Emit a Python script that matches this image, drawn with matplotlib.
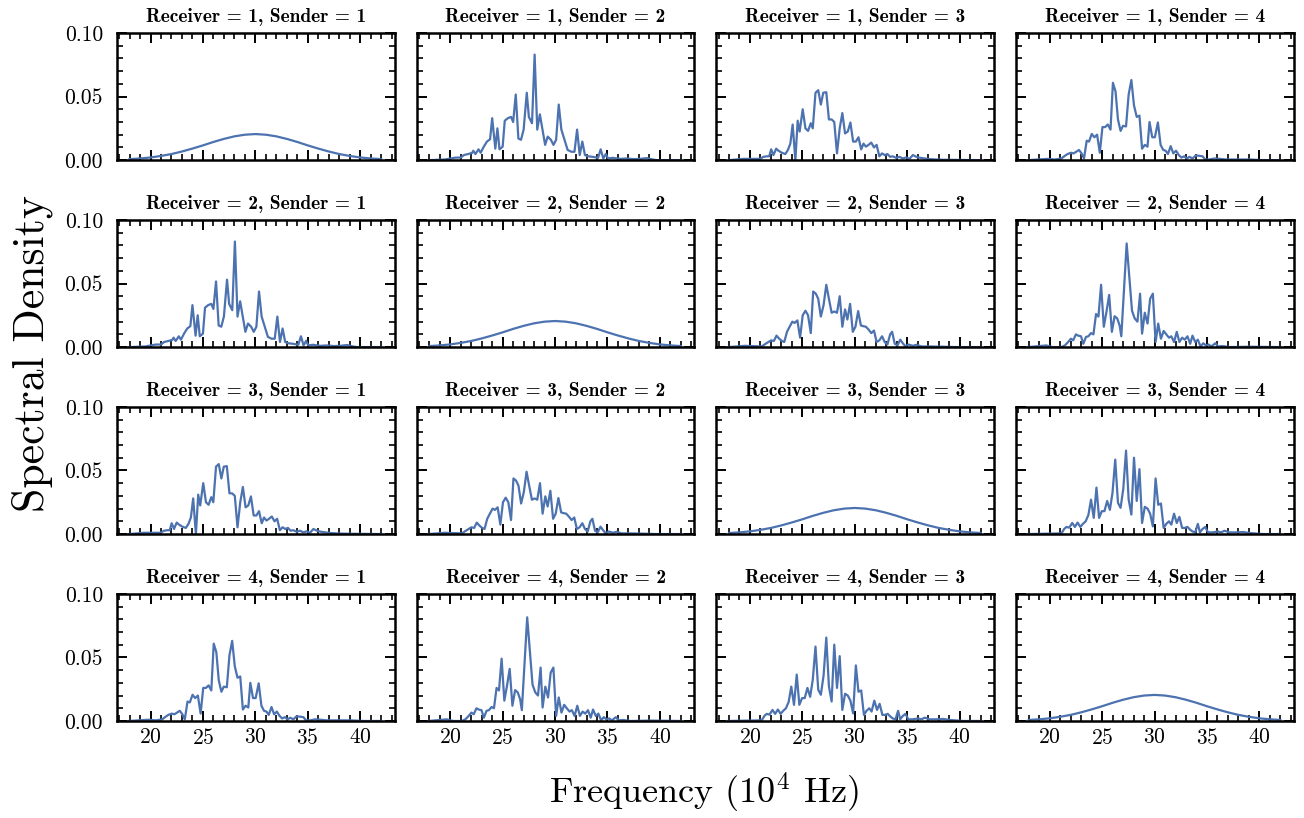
import matplotlib
matplotlib.use("Agg")
import matplotlib.pyplot as plt
from matplotlib.ticker import MultipleLocator, FormatStrFormatter

plt.rcParams['font.family'] = 'cmr10'
plt.rcParams['mathtext.fontset'] = 'cm'
plt.rcParams['axes.formatter.use_mathtext'] = True

# spectra, (frequency in 1e4 Hz, density)
auto_spec = [(18, 0.0008), (19, 0.0013), (20, 0.0021), (21, 0.0033), (22, 0.0048),
             (23, 0.0068), (24, 0.0091), (25, 0.0116), (26, 0.0143), (27, 0.0167),
             (28, 0.0187), (29, 0.0200), (30, 0.0205), (31, 0.0200), (32, 0.0187),
             (33, 0.0167), (34, 0.0143), (35, 0.0116), (36, 0.0091), (37, 0.0068),
             (38, 0.0048), (39, 0.0033), (40, 0.0021), (41, 0.0013), (42, 0.0008)]

cross_12 = [(18.0, 0.0), (19.5, 0.0005), (20.5, 0.002), (21.0, 0.002), (21.3, 0.004),
            (21.8, 0.005), (22.1, 0.0058), (22.2, 0.0074), (22.4, 0.0048), (22.7, 0.0085),
            (22.9, 0.0058), (23.2, 0.0106), (23.5, 0.0146), (23.8, 0.0164), (24.0, 0.033),
            (24.3, 0.009), (24.5, 0.025), (24.7, 0.0085), (25.0, 0.0106), (25.2, 0.031),
            (25.5, 0.033), (25.8, 0.034), (26.0, 0.030), (26.25, 0.0516), (26.5, 0.017),
            (26.75, 0.016), (27.0, 0.024), (27.3, 0.053), (27.5, 0.034), (27.8, 0.029),
            (28.05, 0.083), (28.3, 0.024), (28.55, 0.036), (28.8, 0.024), (29.05, 0.012),
            (29.3, 0.0185), (29.6, 0.016), (29.85, 0.012), (30.1, 0.016), (30.35, 0.0437),
            (30.6, 0.024), (30.9, 0.016), (31.2, 0.008), (31.55, 0.0066), (31.85, 0.0066),
            (32.1, 0.024), (32.35, 0.004), (32.6, 0.0146), (32.85, 0.004), (33.15, 0.003),
            (33.6, 0.0026), (34.1, 0.0018), (34.35, 0.0085), (34.6, 0.0013), (34.85, 0.005),
            (35.05, 0.0013), (35.5, 0.0018), (36.2, 0.001), (36.8, 0.0013), (37.5, 0.0008),
            (38.1, 0.001), (38.75, 0.0016), (39.3, 0.0005), (39.7, 0.0), (42.0, 0.0)]

cross_13 = [(18.0, 0.0), (19.36, 0.001), (19.84, 0.001), (20.96, 0.001), (21.28, 0.0026),
            (21.6, 0.003), (21.83, 0.003), (22.02, 0.0085), (22.24, 0.004), (22.5, 0.009),
            (22.72, 0.0074), (23.04, 0.0058), (23.37, 0.0048), (23.62, 0.008), (23.85, 0.013),
            (24.07, 0.028), (24.33, 0.0), (24.55, 0.031), (24.74, 0.0225), (25.03, 0.040),
            (25.29, 0.025), (25.54, 0.023), (25.8, 0.029), (25.99, 0.025), (26.25, 0.053),
            (26.51, 0.055), (26.76, 0.0437), (26.99, 0.053), (27.28, 0.0534), (27.53, 0.032),
            (27.79, 0.032), (28.04, 0.030), (28.3, 0.0053), (28.56, 0.025), (28.81, 0.037),
            (29.07, 0.021), (29.33, 0.0225), (29.58, 0.0296), (29.84, 0.0146), (30.1, 0.0146),
            (30.35, 0.018), (30.61, 0.0085), (30.83, 0.013), (31.06, 0.0106), (31.31, 0.012),
            (31.57, 0.0138), (31.83, 0.010), (32.08, 0.012), (32.34, 0.003), (32.6, 0.0053),
            (32.85, 0.004), (33.11, 0.0048), (33.37, 0.0026), (33.62, 0.003), (33.94, 0.0018),
            (34.26, 0.0026), (34.58, 0.0013), (34.9, 0.0021), (35.22, 0.001), (35.54, 0.004),
            (35.87, 0.0026), (36.25, 0.0018), (36.67, 0.0013), (37.15, 0.0008), (37.79, 0.0005),
            (38.43, 0.0003), (42.0, 0.0)]

cross_14 = [(17.92, 0.0), (19.84, 0.001), (20.48, 0.0005), (21.12, 0.0013), (21.38, 0.003),
            (21.7, 0.0048), (22.02, 0.0058), (22.28, 0.0053), (22.53, 0.0066), (22.79, 0.008),
            (23.04, 0.0053), (23.27, 0.0013), (23.53, 0.0153), (23.75, 0.0146), (24.01, 0.0206),
            (24.26, 0.018), (24.52, 0.020), (24.78, 0.0058), (25.03, 0.026), (25.29, 0.026),
            (25.54, 0.028), (25.8, 0.024), (26.03, 0.0608), (26.28, 0.054), (26.51, 0.032),
            (26.76, 0.023), (26.99, 0.027), (27.28, 0.0265), (27.53, 0.0516), (27.79, 0.063),
            (28.04, 0.043), (28.3, 0.034), (28.56, 0.035), (28.81, 0.009), (29.07, 0.012),
            (29.33, 0.0106), (29.52, 0.030), (29.78, 0.018), (30.03, 0.018), (30.32, 0.0296),
            (30.58, 0.012), (30.83, 0.008), (31.06, 0.0074), (31.28, 0.0048), (31.54, 0.011),
            (31.79, 0.0053), (32.05, 0.0074), (32.31, 0.004), (32.56, 0.002), (32.82, 0.003),
            (33.08, 0.0013), (33.33, 0.0026), (33.62, 0.0013), (33.94, 0.0037), (34.26, 0.0034),
            (34.58, 0.003), (34.84, 0.0005), (35.22, 0.0005), (35.71, 0.0013), (36.19, 0.001),
            (36.83, 0.0005), (37.79, 0.0005), (39.07, 0.0005), (40.35, 0.0), (42.0, 0.0)]

cross_23 = [(17.92, 0.0), (19.52, 0.001), (21.12, 0.0005), (21.38, 0.002), (21.76, 0.004),
            (22.02, 0.0053), (22.28, 0.0048), (22.53, 0.009), (22.79, 0.0066), (23.04, 0.0048),
            (23.27, 0.004), (23.53, 0.012), (23.78, 0.016), (24.04, 0.020), (24.26, 0.019),
            (24.52, 0.021), (24.78, 0.0074), (25.03, 0.025), (25.29, 0.0286), (25.54, 0.025),
            (25.8, 0.011), (26.03, 0.0437), (26.28, 0.042), (26.51, 0.038), (26.76, 0.024),
            (27.02, 0.033), (27.28, 0.049), (27.53, 0.038), (27.79, 0.027), (28.04, 0.028),
            (28.3, 0.027), (28.56, 0.040), (28.81, 0.016), (29.07, 0.0296), (29.29, 0.0217),
            (29.55, 0.034), (29.81, 0.012), (30.06, 0.016), (30.32, 0.0283), (30.58, 0.017),
            (30.83, 0.0164), (31.06, 0.016), (31.31, 0.0138), (31.57, 0.011), (31.83, 0.013),
            (32.08, 0.004), (32.34, 0.0053), (32.6, 0.0085), (32.85, 0.004), (33.11, 0.002),
            (33.37, 0.010), (33.56, 0.012), (33.81, 0.0026), (34.07, 0.0013), (34.33, 0.0058),
            (34.58, 0.003), (34.84, 0.0005), (35.1, 0.002), (35.54, 0.001), (35.87, 0.0018),
            (36.35, 0.0005), (37.15, 0.0005), (38.43, 0.0003), (39.71, 0.0), (42.0, 0.0)]

cross_24 = [(17.92, 0.0), (19.68, 0.0013), (20.0, 0.0005), (20.32, 0.0), (21.12, 0.0),
            (21.44, 0.0013), (21.76, 0.004), (22.02, 0.0066), (22.24, 0.0053), (22.5, 0.010),
            (22.72, 0.009), (22.98, 0.0085), (23.21, 0.0026), (23.46, 0.008), (23.69, 0.0085),
            (23.94, 0.011), (24.17, 0.010), (24.42, 0.026), (24.65, 0.024), (24.9, 0.049),
            (25.16, 0.016), (25.42, 0.028), (25.67, 0.041), (25.93, 0.012), (26.19, 0.0243),
            (26.44, 0.0225), (26.67, 0.017), (26.83, 0.0085), (27.34, 0.0815), (27.85, 0.0286),
            (28.11, 0.0225), (28.37, 0.020), (28.62, 0.042), (28.81, 0.0106), (29.07, 0.027),
            (29.33, 0.0185), (29.58, 0.038), (29.84, 0.042), (30.1, 0.004), (30.35, 0.0185),
            (30.61, 0.0066), (30.87, 0.0127), (31.12, 0.010), (31.38, 0.0074), (31.6, 0.0085),
            (31.86, 0.004), (32.12, 0.012), (32.37, 0.004), (32.63, 0.0074), (32.88, 0.0058),
            (33.14, 0.0085), (33.4, 0.0026), (33.62, 0.009), (33.88, 0.004), (34.13, 0.0058),
            (34.39, 0.0005), (34.65, 0.003), (34.9, 0.0013), (35.16, 0.002), (35.42, 0.0005),
            (35.8, 0.003), (36.06, 0.0005), (36.51, 0.0008), (37.15, 0.0), (39.07, 0.0003),
            (42.0, 0.0)]

cross_34 = [(17.92, 0.0), (21.12, 0.0005), (21.38, 0.004), (21.6, 0.0056), (21.86, 0.005),
            (22.15, 0.0087), (22.4, 0.0056), (22.66, 0.009), (22.92, 0.0056), (23.17, 0.008),
            (23.43, 0.010), (23.69, 0.015), (23.94, 0.027), (24.2, 0.0127), (24.46, 0.0365),
            (24.71, 0.0127), (24.97, 0.018), (25.22, 0.018), (25.48, 0.026), (25.74, 0.019),
            (25.99, 0.0325), (26.25, 0.0585), (26.51, 0.0246), (26.76, 0.0206), (27.02, 0.0357),
            (27.28, 0.0656), (27.53, 0.0272), (27.79, 0.0153), (28.04, 0.060), (28.3, 0.026),
            (28.56, 0.051), (28.81, 0.0087), (29.07, 0.0214), (29.33, 0.020), (29.58, 0.016),
            (29.84, 0.006), (30.1, 0.0437), (30.35, 0.023), (30.61, 0.024), (30.87, 0.0048),
            (31.12, 0.008), (31.38, 0.010), (31.6, 0.0074), (31.86, 0.016), (32.12, 0.0087),
            (32.37, 0.0135), (32.63, 0.0048), (32.88, 0.0048), (33.14, 0.0056), (33.4, 0.0034),
            (33.62, 0.002), (33.88, 0.0013), (34.13, 0.008), (34.33, 0.0013), (34.58, 0.004),
            (34.84, 0.0056), (35.1, 0.0013), (35.54, 0.0013), (36.03, 0.002), (36.35, 0.0013),
            (36.67, 0.0026), (37.15, 0.0013), (37.79, 0.0013), (38.43, 0.0016), (39.07, 0.0008),
            (40.35, 0.0), (42.0, 0.0)]

cross = {(1, 2): cross_12, (1, 3): cross_13, (1, 4): cross_14,
         (2, 3): cross_23, (2, 4): cross_24, (3, 4): cross_34}

n_chan = 4
line_color = '#4C72B0'

fig, axes = plt.subplots(n_chan, n_chan, figsize=(13.04, 8.18), dpi=100,
                         sharex=True, sharey=True)
fig.subplots_adjust(left=0.0897, right=0.9923, top=0.9597, bottom=0.1186,
                    wspace=0.079, hspace=0.47)

for i in range(n_chan):
    for j in range(n_chan):
        ax = axes[i, j]
        rec, snd = i + 1, j + 1
        if rec == snd:
            spec = auto_spec
        else:
            spec = cross[(min(rec, snd), max(rec, snd))]
        f, s = zip(*spec)
        ax.plot(f, s, color=line_color, lw=1.6)

        ax.set_title('Receiver = %d, Sender = %d' % (rec, snd),
                     fontfamily='cmb10', fontsize=14, pad=8)
        ax.set_xlim(16.8, 43.3)
        ax.set_ylim(0, 0.1)
        ax.xaxis.set_major_locator(MultipleLocator(5))
        ax.xaxis.set_minor_locator(MultipleLocator(1))
        ax.yaxis.set_major_locator(MultipleLocator(0.05))
        ax.yaxis.set_minor_locator(MultipleLocator(0.01))
        ax.yaxis.set_major_formatter(FormatStrFormatter('%.2f'))
        ax.tick_params(which='both', direction='in', top=True, right=True,
                       labelsize=15.5)
        ax.tick_params(which='major', length=7, width=1.4)
        ax.tick_params(axis='x', which='major', pad=5)
        ax.tick_params(axis='y', which='major', pad=10)
        ax.tick_params(which='minor', length=4, width=1.2)
        for sp in ax.spines.values():
            sp.set_linewidth(1.8)

fig.text(0.54, 0.03, r'Frequency ($10^4$ Hz)', ha='center', va='center',
         fontsize=26)
fig.text(0.025, 0.568, 'Spectral Density', ha='center', va='center',
         rotation=90, fontsize=31.5)

fig.savefig('out.png', dpi=100)
